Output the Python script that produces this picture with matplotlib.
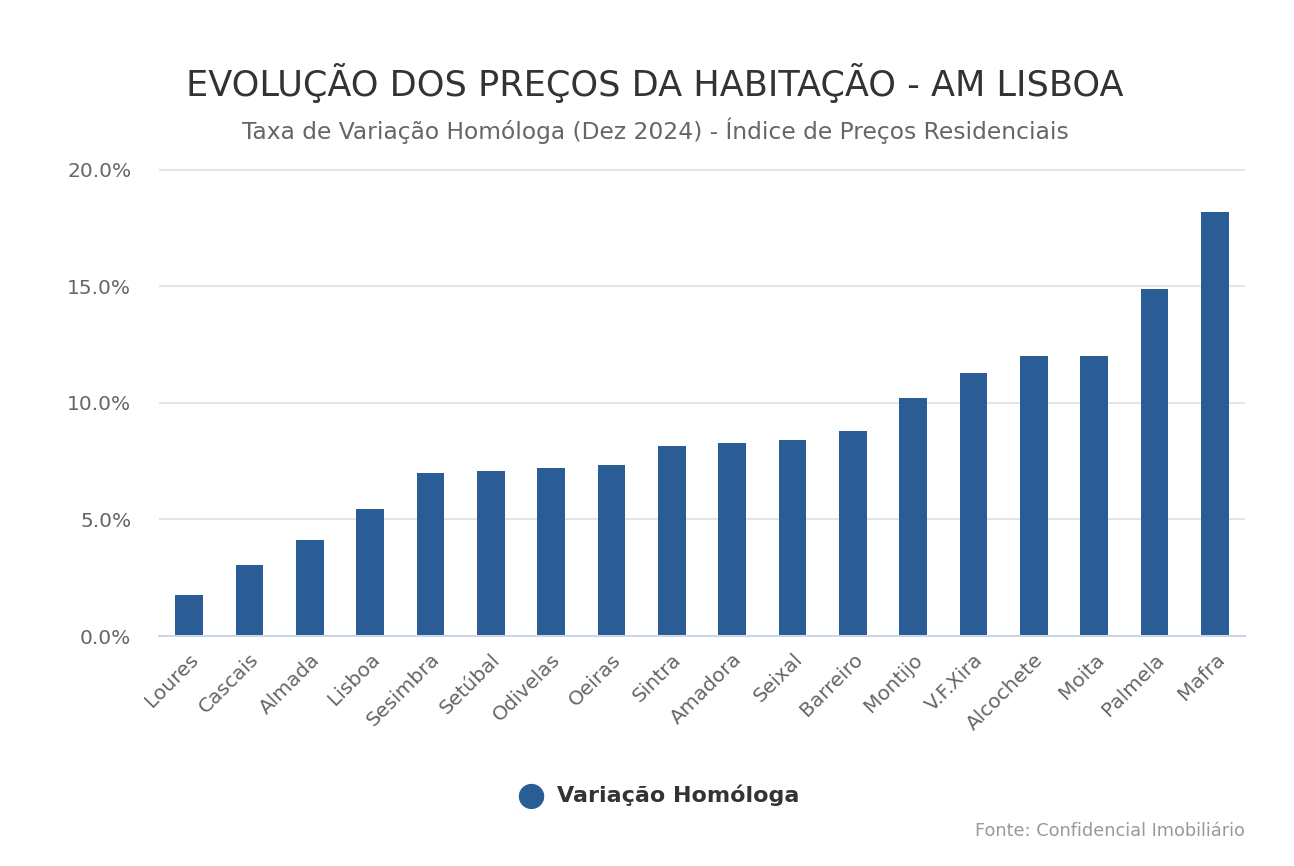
import numpy as np
import matplotlib.pyplot as plt
from matplotlib.ticker import FuncFormatter

# Taxa de variação homóloga (%), Dez 2024
concelhos = ["Loures", "Cascais", "Almada", "Lisboa", "Sesimbra", "Setúbal",
             "Odivelas", "Oeiras", "Sintra", "Amadora", "Seixal", "Barreiro",
             "Montijo", "V.F.Xira", "Alcochete", "Moita", "Palmela", "Mafra"]
variacao = [1.75, 3.05, 4.1, 5.45, 7.0, 7.1, 7.2, 7.35, 8.15, 8.3, 8.4, 8.8,
            10.2, 11.3, 12.0, 12.0, 14.9, 18.2]
yticks = [0, 5, 10, 15, 20]

bar_color = "#2a5d95"
plt.rcParams["font.family"] = ["DejaVu Sans"]

fig = plt.figure(figsize=(12.94, 8.66), dpi=100)
ax = fig.add_axes([159 / 1294, 1 - 636 / 866, (1245 - 159) / 1294, (636 - 169) / 866])

x = np.arange(len(concelhos))
ax.bar(x, variacao, width=0.46, color=bar_color, zorder=3)

ax.set_xlim(-0.5, len(concelhos) - 0.5)
ax.set_ylim(0, 20.04)
ax.set_yticks(yticks)
ax.yaxis.set_major_formatter(FuncFormatter(lambda v, p: f"{v:.1f}%"))
ax.grid(axis="y", color="#e3e3e3", linewidth=1.3, zorder=0)
ax.set_xticks(x)
ax.set_xticklabels(concelhos, rotation=45, ha="right", rotation_mode="anchor",
                   fontsize=14.5, color="#666666")
ax.tick_params(axis="x", length=0, pad=10)
for lbl in ax.get_xticklabels():
    lbl.set_x(lbl.get_position()[0])
ax.tick_params(axis="y", length=0, labelsize=14.5, labelcolor="#666666", pad=20)

for s in ["top", "right", "left"]:
    ax.spines[s].set_visible(False)
ax.spines["bottom"].set_color("#ccd6eb")
ax.spines["bottom"].set_linewidth(1.5)
ax.spines["bottom"].set_zorder(4)

fig.text(655 / 1294, 1 - 83 / 866, "EVOLUÇÃO DOS PREÇOS DA HABITAÇÃO - AM LISBOA",
         ha="center", va="center", fontsize=25.3, color="#333333")
fig.text(655 / 1294, 1 - 131 / 866,
         "Taxa de Variação Homóloga (Dez 2024) - Índice de Preços Residenciais",
         ha="center", va="center", fontsize=16.8, color="#666666")

# legenda
fig.text(531 / 1294, 1 - 795 / 866, "●", ha="center", va="center",
         fontsize=24, color=bar_color)
fig.text(557 / 1294, 1 - 795 / 866, "Variação Homóloga", ha="left", va="center",
         fontsize=16, fontweight="bold", color="#333333")

fig.text(1245 / 1294, 1 - 831 / 866, "Fonte: Confidencial Imobiliário",
         ha="right", va="center", fontsize=12.8, color="#999999")

fig.savefig("out.png", dpi=100, facecolor="white")
